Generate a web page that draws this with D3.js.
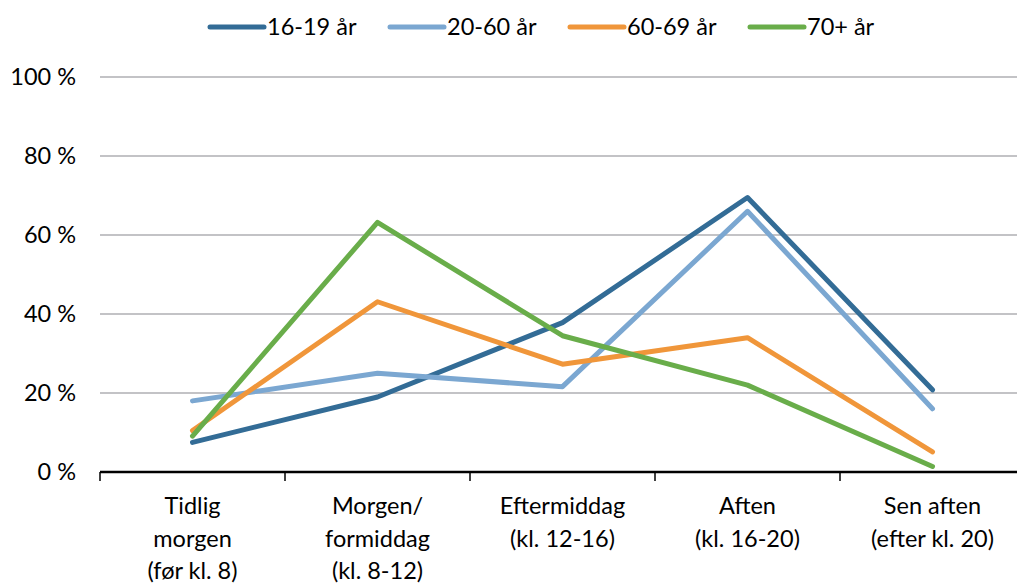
<!DOCTYPE html>
<html>
<head>
<meta charset="utf-8">
<script src="https://cdn.jsdelivr.net/npm/d3@7"></script>
<style>
  body { margin: 0; background: #fff; }
  text { font-family: Lato, "Open Sans", sans-serif; fill: #000; }
</style>
</head>
<body>
<div id="chart"></div>
<script>
// data
var categories = [
    ["Tidlig", "morgen", "(før kl. 8)"],
    ["Morgen/", "formiddag", "(kl. 8-12)"],
    ["Eftermiddag", "(kl. 12-16)"],
    ["Aften", "(kl. 16-20)"],
    ["Sen aften", "(efter kl. 20)"]
];
var seriesNames = ["16-19 år", "20-60 år", "60-69 år", "70+ år"];
var s1619 = [7.5, 19, 37.8, 69.5, 20.8];
var s2060 = [18, 25, 21.6, 66, 16];
var s6069 = [10.5, 43.1, 27.3, 34, 5.1];
var s70 = [9.1, 63.2, 34.5, 22, 1.4];
var yTicks = [0, 20, 40, 60, 80, 100];
var colors = ["#336c96", "#7ba7d1", "#f0963a", "#69ad4a"];

var series = [s1619, s2060, s6069, s70];

var W = 1017, H = 583;
var svg = d3.select("#chart").append("svg")
    .attr("width", W)
    .attr("height", H);

// scales
var x = d3.scaleBand()
    .domain(d3.range(categories.length))
    .range([100, 1025]);

var y = d3.scaleLinear()
    .domain([0, 100])
    .range([472, 77]);

// gridlines
svg.append("g")
    .selectAll("line")
    .data(yTicks.slice(1))
    .enter()
    .append("line")
    .attr("x1", 100)
    .attr("x2", W)
    .attr("y1", d => y(d))
    .attr("y2", d => y(d))
    .attr("stroke", "#c3c3c6")
    .attr("stroke-width", 2);

// y labels
svg.append("g")
    .selectAll("text")
    .data(yTicks)
    .enter()
    .append("text")
    .attr("x", 76)
    .attr("y", d => y(d))
    .attr("dy", "0.35em")
    .attr("text-anchor", "end")
    .style("font-size", "23.5px")
    .text(d => d + " %");

// x axis
var xAxis = svg.append("g")
    .attr("transform", "translate(0," + y(0) + ")")
    .call(d3.axisBottom(x).tickSize(0).tickFormat(""));
xAxis.select(".domain").remove();
xAxis.append("line")
    .attr("x1", 100).attr("x2", W)
    .attr("stroke", "#000").attr("stroke-width", 2.5);
xAxis.selectAll(".sep")
    .data(d3.range(categories.length))
    .enter()
    .append("line")
    .attr("class", "sep")
    .attr("x1", d => x(d)).attr("x2", d => x(d))
    .attr("y1", 0).attr("y2", 9)
    .attr("stroke", "#000").attr("stroke-width", 1.5);

// category labels
var catLabel = svg.append("g")
    .selectAll("text")
    .data(categories)
    .enter()
    .append("text")
    .attr("text-anchor", "middle")
    .attr("x", (d, i) => x(i) + x.bandwidth() / 2)
    .attr("y", 514)
    .style("font-size", "23.5px");
catLabel.selectAll("tspan")
    .data(d => d)
    .enter()
    .append("tspan")
    .attr("x", function() { return d3.select(this.parentNode).attr("x"); })
    .attr("dy", (d, i) => i === 0 ? 0 : 32.5)
    .text(d => d);

// lines
var line = d3.line()
    .x((d, i) => x(i) + x.bandwidth() / 2)
    .y(d => y(d));

svg.append("g")
    .selectAll("path")
    .data(series)
    .enter()
    .append("path")
    .attr("d", d => line(d))
    .attr("fill", "none")
    .attr("stroke", (d, i) => colors[i])
    .attr("stroke-width", 5)
    .attr("stroke-linejoin", "round")
    .attr("stroke-linecap", "round");

// legend
var legend = svg.append("g")
    .attr("transform", "translate(210,27)");

seriesNames.forEach((name, i) => {
    legend.append("line")
        .attr("x1", i * 180)
        .attr("x2", i * 180 + 54)
        .attr("stroke", colors[i])
        .attr("stroke-width", 5)
        .attr("stroke-linecap", "round");

    legend.append("text")
        .attr("x", i * 180 + 57)
        .attr("y", 0)
        .attr("dy", "0.35em")
        .style("font-size", "23.5px")
        .text(name);
});
</script>
</body>
</html>
